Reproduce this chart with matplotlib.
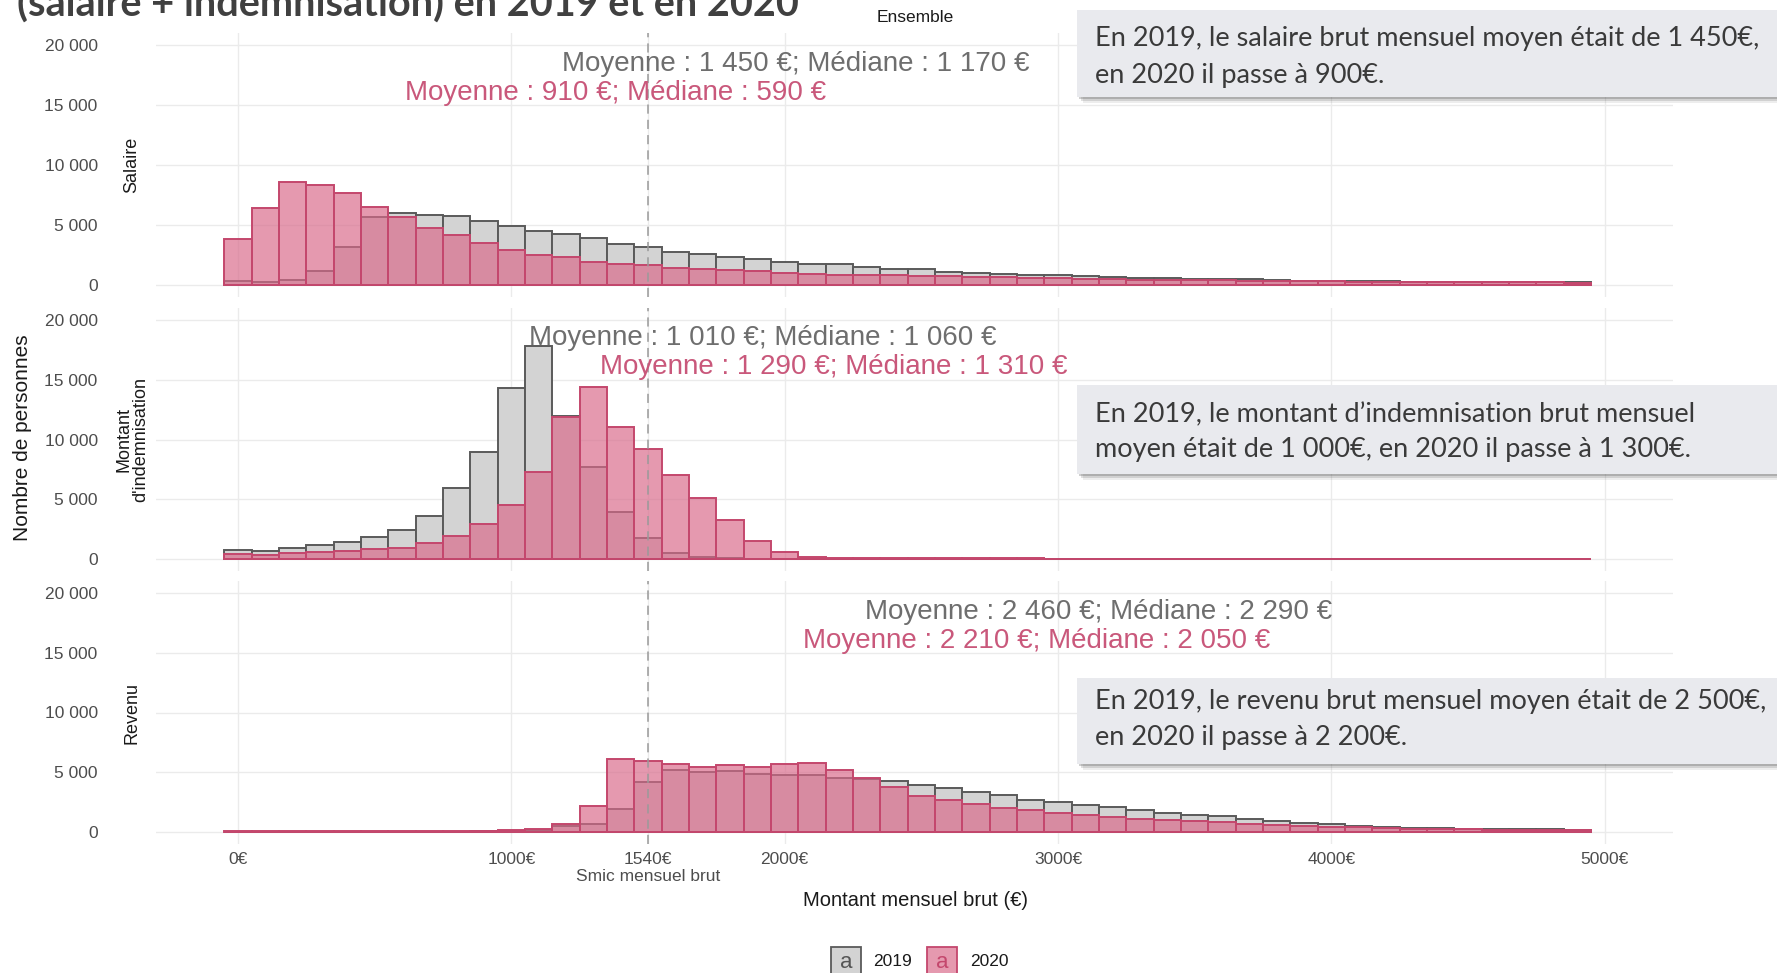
import numpy as np
import matplotlib

matplotlib.use("Agg")
import matplotlib.pyplot as plt
from matplotlib.patches import Rectangle
from matplotlib.ticker import FuncFormatter

plt.rcParams["font.family"] = ["Liberation Sans", "DejaVu Sans"]

W, H = 1777, 973
GREY_FILL = "#d3d3d3"; GREY_EDGE = "#5a5a5a"; GREY_TXT = "#6e6e6e"
PINK = (0.85, 0.41, 0.54, 0.68); PINK_EDGE = "#c4476d"; PINK_TXT = "#c9587b"
BOX_FILL = "#e9eaee"; INK = "#3a3a3a"

# ---------------------------------------------------------------- data
bins = np.arange(0, 5000, 100)          # bin centres, width 100 €
years = ["2019", "2020"]
panels = ["Salaire", "Montant\nd'indemnisation", "Revenu"]

salaire_2019 = [300, 200, 400, 1150, 3150, 5600, 5950, 5800, 5700, 5280,
                4860, 4460, 4210, 3870, 3390, 3160, 2740, 2570, 2320, 2120,
                1890, 1750, 1700, 1440, 1300, 1270, 1050, 990, 900, 820,
                790, 680, 630, 570, 560, 490, 460, 450, 350, 320,
                310, 290, 280, 250, 240, 220, 210, 200, 190, 180]
salaire_2020 = [3800, 6350, 8600, 8300, 7600, 6500, 5650, 4750, 4120, 3480,
                2880, 2490, 2260, 1890, 1750, 1640, 1410, 1270, 1190, 1100,
                990, 880, 820, 820, 780, 740, 710, 650, 600, 540,
                510, 460, 430, 400, 380, 350, 340, 320, 290, 270,
                260, 250, 230, 220, 210, 200, 190, 180, 170, 160]
indem_2019 = [760, 680, 930, 1150, 1460, 1830, 2450, 3580, 5920, 8970,
              14300, 17850, 11950, 7700, 3940, 1750, 520, 180, 70, 40,
              30, 25, 20, 20, 20, 20, 20, 20, 20, 20,
              15, 15, 15, 15, 15, 15, 15, 15, 15, 15,
              10, 10, 10, 10, 10, 10, 10, 10, 10, 10]
indem_2020 = [420, 340, 480, 560, 680, 845, 960, 1320, 1930, 2970,
              4520, 7300, 11900, 14400, 11080, 9190, 7050, 5070, 3260, 1550,
              560, 140, 90, 70, 60, 55, 50, 50, 50, 50,
              45, 45, 45, 45, 45, 40, 40, 40, 40, 40,
              40, 35, 35, 35, 35, 35, 30, 30, 30, 30]
revenu_2019 = [40, 40, 40, 40, 40, 40, 40, 40, 40, 60,
               80, 200, 475, 700, 1960, 4220, 5150, 5060, 5090, 4890,
               4750, 4780, 4530, 4450, 4270, 3930, 3650, 3380, 3100, 2680,
               2510, 2260, 2120, 1870, 1620, 1450, 1310, 1120, 920, 780,
               640, 530, 420, 360, 310, 280, 250, 220, 220, 200]
revenu_2020 = [50, 50, 50, 50, 50, 50, 50, 50, 50, 80,
               140, 280, 700, 2150, 6100, 5930, 5710, 5480, 5620, 5480,
               5710, 5790, 5230, 4500, 3740, 3040, 2680, 2320, 2010, 1810,
               1620, 1450, 1230, 1120, 1000, 890, 840, 700, 610, 530,
               450, 390, 340, 280, 250, 220, 210, 195, 190, 170]
counts = [(salaire_2019, salaire_2020), (indem_2019, indem_2020), (revenu_2019, revenu_2020)]

stats_2019 = ["Moyenne : 1 450 €; Médiane : 1 170 €",
              "Moyenne : 1 010 €; Médiane : 1 060 €",
              "Moyenne : 2 460 €; Médiane : 2 290 €"]
stats_2020 = ["Moyenne : 910 €; Médiane : 590 €",
              "Moyenne : 1 290 €; Médiane : 1 310 €",
              "Moyenne : 2 210 €; Médiane : 2 050 €"]

xticks = [0, 1000, 1500, 2000, 3000, 4000, 5000]
xtick_labels = ["0€", "1000€", "1540€\nSmic mensuel brut", "2000€", "3000€", "4000€", "5000€"]
yticks = [0, 5000, 10000, 15000, 20000]

notes = [["En 2019, le salaire brut mensuel moyen était de 1 450€,",
          "en 2020 il passe à 900€."],
         ["En 2019, le montant d’indemnisation brut mensuel",
          "moyen était de 1 000€, en 2020 il passe à 1 300€."],
         ["En 2019, le revenu brut mensuel moyen était de 2 500€,",
          "en 2020 il passe à 2 200€."]]

# ---------------------------------------------------------------- layout helpers
def fx(x):
    return x / W


def fy(y):
    return 1 - y / H


# label anchor positions (data coords) for the stats lines
lab19_xy = [(2040, 18450), (1920, 18500), (3150, 18400)]
lab20_xy = [(1380, 16000), (2180, 16050), (2920, 15950)]
panel_px = [(33, 296.5), (308, 571), (581, 844)]   # top, bottom in pixels
SMIC_X = 1500   # dashed line sits on the 1500 grid line in the original

fig = plt.figure(figsize=(W / 100, H / 100), dpi=100)
fig.patch.set_facecolor("white")

axes = []
for i, (top, bot) in enumerate(panel_px):
    ax = fig.add_axes([fx(156), fy(bot), fx(1673) - fx(156), (bot - top) / H])
    axes.append(ax)
    c19, c20 = counts[i]
    ax.bar(bins, c19, width=100, facecolor=GREY_FILL, edgecolor=GREY_EDGE, linewidth=1.4, zorder=2)
    ax.bar(bins, c20, width=100, facecolor=PINK, edgecolor=PINK_EDGE, linewidth=1.4, zorder=3)
    ax.axvline(SMIC_X, color="#9a9a9a", lw=1.1, ls=(0, (6, 4)), zorder=4)
    ax.set_xlim(-300, 5250)
    ax.set_ylim(-1000, 21000)
    ax.set_xticks(xticks)
    ax.set_yticks(yticks)
    ax.yaxis.set_major_formatter(FuncFormatter(lambda v, p: f"{int(v):,}".replace(",", " ")))
    ax.grid(True, color="#ebebeb", lw=1.0, zorder=0)
    ax.set_axisbelow(True)
    for s in ax.spines.values():
        s.set_visible(False)
    ax.tick_params(length=0, labelsize=12.5, labelcolor="#4d4d4d", pad=6)
    ax.tick_params(axis="y", pad=42)
    if i < 2:
        ax.set_xticklabels([])
    else:
        ax.set_xticklabels(xtick_labels, fontsize=12.5, color="#4d4d4d", linespacing=1.15)
    ax.text(*lab19_xy[i], stats_2019[i], ha="center", va="center", fontsize=20,
            color=GREY_TXT, zorder=5)
    ax.text(*lab20_xy[i], stats_2020[i], ha="center", va="center", fontsize=20,
            color=PINK_TXT, zorder=5)
    fig.text(fx(132), fy((top + bot) / 2), panels[i], rotation=90, ha="center", va="center",
             fontsize=13, color="#1a1a1a", linespacing=1.0)

fig.text(fx(23), fy(438), "Nombre de personnes", rotation=90, ha="center", va="center",
         fontsize=15, color="#1a1a1a")
fig.text(fx(915), fy(901), "Montant mensuel brut (€)", ha="center", va="center",
         fontsize=14.5, color="#1a1a1a")
fig.text(fx(915), fy(18), "Ensemble", ha="center", va="center", fontsize=12.5, color="#1a1a1a")

# cropped slide title
fig.text(fx(17), fy(17), "(salaire + indemnisation) en 2019 et en 2020", ha="left",
         va="baseline", fontsize=28.5, fontweight="bold", color="#404040", family="Lato")

# ---------------------------------------------------------------- comment boxes
box_px = [(10, 97), (385, 474), (678, 764)]
line_px = [(38.5, 75), (415, 450), (701.5, 738)]
for (t, b), (l1, l2), lines in zip(box_px, line_px, notes):
    for k, alpha in enumerate([0.10, 0.18, 0.28]):
        off = 6 - 2 * k
        fig.add_artist(Rectangle((fx(1077 + off), fy(b + off)), fx(800), (b - t) / H,
                                 transform=fig.transFigure, facecolor="#555555",
                                 edgecolor="none", alpha=alpha, zorder=8))
    fig.add_artist(Rectangle((fx(1077), fy(b)), fx(800), (b - t) / H,
                             transform=fig.transFigure, facecolor=BOX_FILL,
                             edgecolor="none", zorder=9))
    for y, s in zip((l1, l2), lines):
        fig.text(fx(1095), fy(y), s, ha="left", va="center", fontsize=19.5,
                 color=INK, family="Lato", zorder=10)

# ---------------------------------------------------------------- legend
keys = [(831, GREY_FILL, GREY_EDGE, "#555555"), (927, PINK, PINK_EDGE, "#c4476d")]
for (kx, fc, ec, tc), yr in zip(keys, years):
    fig.add_artist(Rectangle((fx(kx), fy(985)), fx(30), 38 / H, transform=fig.transFigure,
                             facecolor=fc, edgecolor=ec, lw=1.3, zorder=6))
    fig.text(fx(kx + 15), fy(963), "a", ha="center", va="center", fontsize=16,
             color=tc, zorder=7)
    fig.text(fx(kx + 62), fy(961), yr, ha="center", va="center", fontsize=12.5, color="#1a1a1a")

fig.savefig("out.png", dpi=100, facecolor="white")
